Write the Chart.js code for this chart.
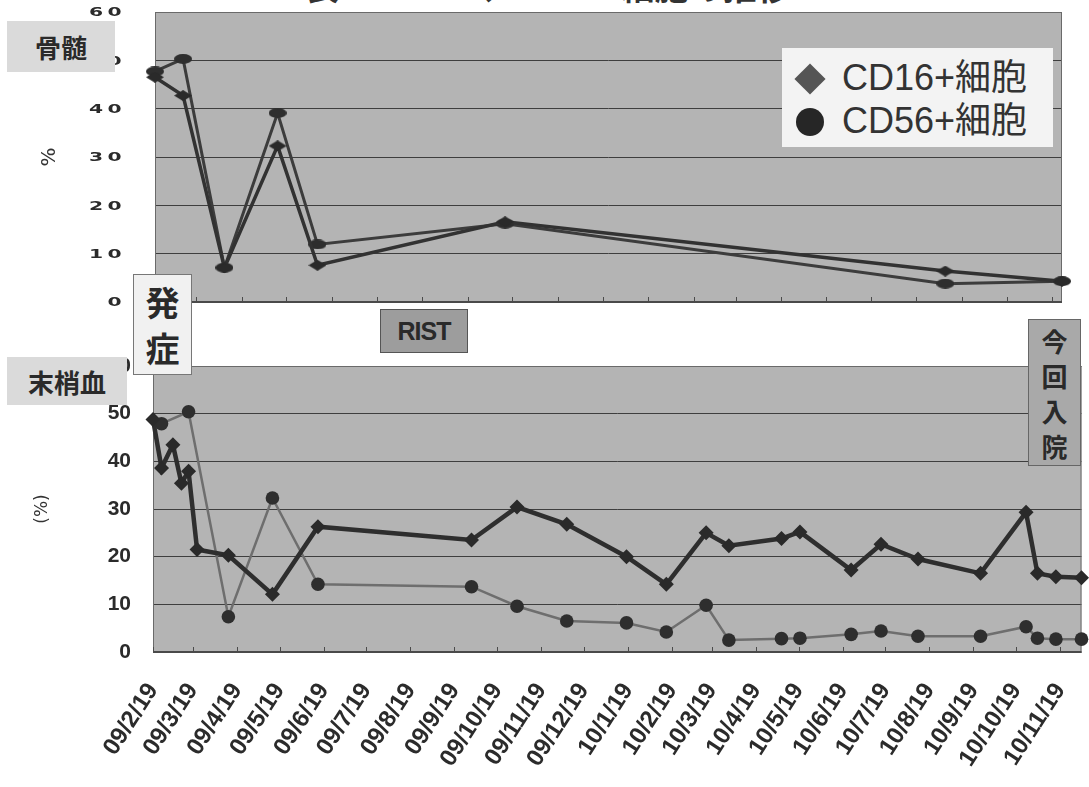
<!DOCTYPE html>
<html lang="ja">
<head>
<meta charset="utf-8">
<title>CD16+、CD56+細胞の推移</title>
<script src="https://cdn.jsdelivr.net/npm/chart.js@4.4.1/dist/chart.umd.min.js"></script>
<style>
  html, body { margin: 0; padding: 0; background: #fff; }
  #stage { position: relative; width: 1089px; height: 787px; overflow: hidden; background: #fff;
           font-family: "Noto Sans CJK JP", "Liberation Sans", sans-serif; }
  .layer { position: absolute; left: 0; top: 0; }
  #title { position: absolute; left: 305px; top: -31px; font-size: 34px; line-height: 34px; font-weight: bold;
           color: #333; white-space: nowrap; }
  .tag { position: absolute; box-sizing: border-box; color: #2a2a2a; font-weight: bold;
         display: flex; align-items: center; justify-content: center; text-align: center; }
  #tagMarrow { left: 7px; top: 21px; width: 108px; height: 51px; background: #dadada; font-size: 26px; }
  #tagBlood  { left: 7px; top: 357px; width: 120px; height: 48px; background: #dadada; font-size: 26px; }
  #tagOnset  { left: 133px; top: 274px; width: 59px; height: 101px; background: #f1f1f1; border: 1px solid #777;
               font-size: 34px; line-height: 46px; }
  #tagRist   { left: 380px; top: 309px; width: 88px; height: 44px; background: #9d9d9d; border: 1px solid #555;
               font-family: "Liberation Sans", sans-serif; font-size: 25px; letter-spacing: -1px; }
  #tagAdmit  { left: 1028px; top: 319px; width: 53px; height: 147px; background: #a9a9a9; border: 1px solid #666;
               font-size: 26px; line-height: 35px; }
  #legend { position: absolute; left: 782px; top: 48px; width: 271px; height: 99px; background: #f3f3f3; }
  #legend .mark { position: absolute; }
  #legend .diamond { left: 17px; top: 20px; width: 22px; height: 22px; background: #555; transform: rotate(45deg); }
  #legend .dot { left: 14px; top: 60px; width: 28px; height: 28px; border-radius: 50%; background: #262626; }
  #legend .ltext { position: absolute; left: 60px; font-family: "Liberation Sans", "Noto Sans CJK JP", sans-serif;
                   font-size: 36px; line-height: 40px; color: #333; white-space: nowrap; }
</style>
</head>
<body>
<div id="stage">
  <div id="title">表　CD16+、CD56+細胞の推移</div>
  <div class="layer"><canvas id="marrowChart" width="1089" height="340"></canvas></div>
  <div class="layer"><canvas id="bloodChart" width="1089" height="787"></canvas></div>

  <div id="legend">
    <span class="mark diamond"></span><span class="ltext" style="top:10px">CD16+細胞</span>
    <span class="mark dot"></span><span class="ltext" style="top:53px">CD56+細胞</span>
  </div>

  <div class="tag" id="tagMarrow">骨髄</div>
  <div class="tag" id="tagBlood">末梢血</div>
  <div class="tag" id="tagOnset">発<br>症</div>
  <div class="tag" id="tagRist">RIST</div>
  <div class="tag" id="tagAdmit">今<br>回<br>入<br>院</div>
</div>

<script>
// ---- data -------------------------------------------------------------
// month tick labels (yy/m/d)
const monthLabels = ['09/2/19', '09/3/19', '09/4/19', '09/5/19', '09/6/19', '09/7/19', '09/8/19',
  '09/9/19', '09/10/19', '09/11/19', '09/12/19', '10/1/19', '10/2/19', '10/3/19', '10/4/19',
  '10/5/19', '10/6/19', '10/7/19', '10/8/19', '10/9/19', '10/10/19', '10/11/19'];

// bone marrow (骨髄), % of cells
const marrowDates = ['2009-02-19', '2009-03-10', '2009-04-07', '2009-05-13', '2009-06-09',
  '2009-10-14', '2010-08-08', '2010-10-26'];
const marrowCD16 = [46.5, 42.7, 7.1, 32.3, 7.6, 16.6, 6.4, 4.3];
const marrowCD56 = [47.7, 50.3, 7.1, 39.1, 11.9, 16.2, 3.8, 4.3];

// peripheral blood (末梢血), % of lymphocytes
const bloodDates = ['2009-02-19', '2009-02-25', '2009-03-05', '2009-03-11', '2009-03-16', '2009-03-22',
  '2009-04-13', '2009-05-14', '2009-06-15', '2009-10-01', '2009-11-02', '2009-12-07', '2010-01-18',
  '2010-02-15', '2010-03-15', '2010-03-31', '2010-05-07', '2010-05-20', '2010-06-25', '2010-07-16',
  '2010-08-11', '2010-09-24', '2010-10-26', '2010-11-03', '2010-11-16', '2010-12-04'];
const bloodCD16 = [48.8, 38.6, 43.5, 35.4, 37.9, 21.5, 20.3, 12.1, 26.3, 23.5, 30.4, 26.8, 20.0,
  14.2, 25.0, 22.3, 23.8, 25.2, 17.2, 22.6, 19.5, 16.5, 29.3, 16.5, 15.8, 15.6];
const bloodCD56 = [null, 47.9, null, null, 50.4, null, 7.4, 32.3, 14.2, 13.7, 9.6, 6.5, 6.1,
  4.2, 9.8, 2.5, 2.8, 2.9, 3.7, 4.4, 3.3, 3.3, 5.3, 2.9, 2.7, 2.7];

// ---- helpers -------------------------------------------------------------
const DAY = 86400000;
const origin = Date.parse(bloodDates[0]);
const dayOf = iso => (Date.parse(iso) - origin) / DAY;
const labelDay = lbl => {
  const [yy, m, d] = lbl.split('/').map(Number);
  return (Date.UTC(2000 + yy, m - 1, d) - origin) / DAY;
};
const monthDays = monthLabels.map(labelDay);
const toPoints = (dates, vals) => dates.map((d, i) => ({ x: dayOf(d), y: vals[i] }));

function ellipseMarker(w, h, color) {
  const c = document.createElement('canvas');
  c.width = w; c.height = h;
  const g = c.getContext('2d');
  g.fillStyle = color;
  g.beginPath(); g.ellipse(w / 2, h / 2, w / 2, h / 2, 0, 0, Math.PI * 2); g.fill();
  return c;
}
function diamondMarker(w, h, color) {
  const c = document.createElement('canvas');
  c.width = w; c.height = h;
  const g = c.getContext('2d');
  g.fillStyle = color;
  g.beginPath(); g.moveTo(w / 2, 0); g.lineTo(w, h / 2); g.lineTo(w / 2, h); g.lineTo(0, h / 2);
  g.closePath(); g.fill();
  return c;
}

// grey plot area, frame and inward month ticks
const plotFrame = {
  id: 'plotFrame',
  beforeDraw(chart) {
    const { ctx, chartArea: a } = chart;
    ctx.save();
    ctx.fillStyle = '#b4b4b4';
    ctx.fillRect(a.left, a.top, a.width, a.height);
    ctx.restore();
  },
  beforeDatasetsDraw(chart) {
    const { ctx, chartArea: a } = chart;
    const xs = chart.scales.x;
    ctx.save();
    ctx.strokeStyle = '#6a6a6a';
    ctx.lineWidth = 1;
    ctx.strokeRect(a.left + 0.5, a.top + 0.5, a.width - 1, a.height - 1);
    ctx.strokeStyle = '#4a4a4a';
    ctx.lineWidth = 2;
    ctx.beginPath(); ctx.moveTo(a.left, a.bottom); ctx.lineTo(a.right, a.bottom); ctx.stroke();
    ctx.lineWidth = 1;
    ctx.beginPath();
    xs.ticks.forEach(t => {
      const px = Math.round(xs.getPixelForValue(t.value)) + 0.5;
      ctx.moveTo(px, a.bottom); ctx.lineTo(px, a.bottom - 5);
    });
    ctx.stroke();
    ctx.restore();
  }
};

// wide, flattened value labels of the marrow panel
const wideYLabels = {
  id: 'wideYLabels',
  afterDraw(chart) {
    const ys = chart.scales.y, ctx = chart.ctx;
    ctx.save();
    ctx.font = 'bold 14px "DejaVu Sans"';
    ctx.fillStyle = '#2b2b2b';
    ctx.textAlign = 'right';
    ctx.textBaseline = 'middle';
    ys.ticks.forEach(t => {
      const y = ys.getPixelForValue(t.value);
      ctx.save();
      ctx.translate(126, y + 1);
      ctx.scale(1.45, 0.9);
      ctx.letterSpacing = '3px';
      ctx.fillText(String(t.value), 0, 0);
      ctx.restore();
    });
    ctx.restore();
  }
};

const monthTicks = (lo, hi) => scale => {
  scale.ticks = monthDays.filter(v => v >= lo && v <= hi).map(v => ({ value: v }));
};
// keep the plot edges fixed; rotated labels may overhang them
const fixHeight = h => s => { s.height = h; s.paddingLeft = 0; s.paddingRight = 0; };

// ---- bone marrow panel ---------------------------------------------------
const marrowMax = dayOf(marrowDates[marrowDates.length - 1]);
new Chart(document.getElementById('marrowChart'), {
  type: 'line',
  data: {
    datasets: [
      {
        label: 'CD16+細胞',
        data: toPoints(marrowDates, marrowCD16),
        borderColor: '#323232', borderWidth: 3.5,
        pointStyle: diamondMarker(18, 11, '#2a2a2a'),
        clip: false
      },
      {
        label: 'CD56+細胞',
        data: toPoints(marrowDates, marrowCD56),
        borderColor: '#3c3c3c', borderWidth: 3,
        pointStyle: ellipseMarker(18, 10, '#2e2e2e'),
        clip: false
      }
    ]
  },
  options: {
    responsive: false,
    animation: false,
    layout: { padding: { left: 0, top: 12, right: 27, bottom: 0 } },
    plugins: { legend: { display: false }, tooltip: { enabled: false } },
    scales: {
      x: {
        type: 'linear', min: 0, max: marrowMax,
        afterBuildTicks: monthTicks(1, marrowMax),
        afterFit: fixHeight(38),
        ticks: { display: false },
        grid: { display: false, drawTicks: false },
        border: { display: false }
      },
      y: {
        min: 0, max: 60,
        afterFit: s => { s.width = 155; },
        ticks: { display: false, stepSize: 10 },
        grid: { color: '#3e3e3e', lineWidth: 1, drawTicks: false },
        border: { display: false },
        title: { display: true, text: '%', color: '#333', font: { size: 20, family: 'DejaVu Sans' },
                 padding: { top: 38, bottom: 0 } }
      }
    }
  },
  plugins: [plotFrame, wideYLabels]
});

// ---- peripheral blood panel ----------------------------------------------
const bloodMax = dayOf(bloodDates[bloodDates.length - 1]);
new Chart(document.getElementById('bloodChart'), {
  type: 'line',
  data: {
    datasets: [
      {
        label: 'CD16+細胞',
        data: toPoints(bloodDates, bloodCD16),
        borderColor: '#2e2e2e', borderWidth: 4.5,
        pointStyle: 'rectRot', pointRadius: 7.5,
        pointBackgroundColor: '#2a2a2a', pointBorderWidth: 0,
        spanGaps: true, clip: false
      },
      {
        label: 'CD56+細胞',
        data: toPoints(bloodDates, bloodCD56),
        borderColor: '#6e6e6e', borderWidth: 2.5,
        pointStyle: 'circle', pointRadius: 6.8,
        pointBackgroundColor: '#2e2e2e', pointBorderWidth: 0,
        spanGaps: true, clip: false
      }
    ]
  },
  options: {
    responsive: false,
    animation: false,
    layout: { padding: { left: 0, top: 366, right: 7, bottom: 0 } },
    plugins: { legend: { display: false }, tooltip: { enabled: false } },
    scales: {
      x: {
        type: 'linear', min: 0, max: bloodMax,
        afterBuildTicks: monthTicks(0, bloodMax),
        afterFit: fixHeight(135),
        ticks: {
          autoSkip: false, minRotation: 57, maxRotation: 57, padding: 26,
          color: '#2b2b2b', font: { family: 'Liberation Sans', weight: 'bold', size: 24 },
          callback: v => monthLabels[monthDays.indexOf(v)]
        },
        grid: { display: false, drawTicks: false },
        border: { display: false }
      },
      y: {
        min: 0, max: 60,
        afterFit: s => { s.width = 153; },
        ticks: { stepSize: 10, padding: 22, color: '#2b2b2b',
                 font: { family: 'Liberation Sans', weight: 'bold', size: 21 } },
        grid: { color: '#3e3e3e', lineWidth: 1, drawTicks: false },
        border: { display: false },
        title: { display: true, text: '(%)', color: '#333', font: { size: 17, family: 'DejaVu Sans' },
                 padding: { top: 32, bottom: 0 } }
      }
    }
  },
  plugins: [plotFrame]
});
</script>
</body>
</html>
